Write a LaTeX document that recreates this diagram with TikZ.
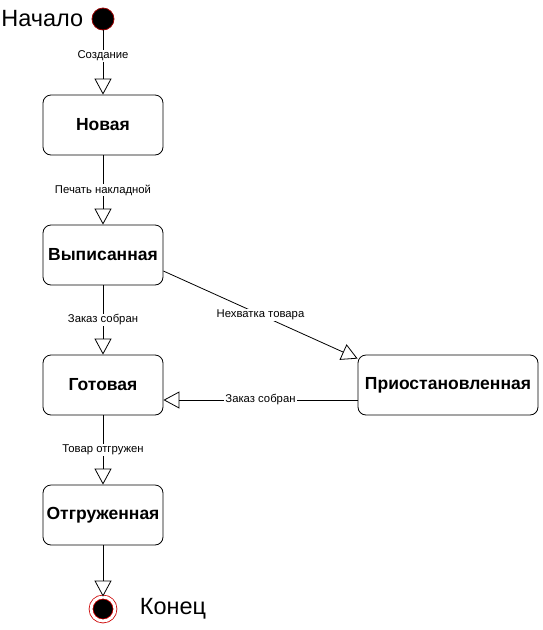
\documentclass[tikz,border=0pt]{standalone}
\usepackage{fontspec}
\setmainfont{Liberation Sans}
\usetikzlibrary{arrows.meta,positioning}

\begin{document}
\begin{tikzpicture}[x=1pt, y=-1pt, node distance=130pt, line width=0.8pt,
		state node/.style={rectangle,draw,rounded corners=8pt,minimum width=120pt,minimum height=60pt,
			inner sep=2pt,font=\fontsize{17.5}{20}\selectfont\bfseries},
		start node/.style={circle,draw=red!60!black,fill=black,minimum size=22pt,inner sep=0pt},
		end node/.style={circle,draw=red!80!black,double=white,double distance=3pt,fill=black,
			minimum size=24pt,inner sep=0pt},
		big label/.style={font=\fontsize{23.5}{26}\selectfont,inner sep=0pt},
		>={Triangle[open,length=16pt,width=17pt]}]
		
		\useasboundingbox (0,0) rectangle (543,630);
		
		\node[state node] (1) at (103,125) {Новая};
		\node[state node] (2) [below of=1] {Выписанная};
		\node[state node] (3) [below of=2] {Готовая};
		\node[state node] (4) [below of=3] {Отгруженная};
		\node[state node,minimum width=180pt] (5) [right of=3,node distance=345pt] {Приостановленная};
		
		\node[start node] (s) at (103,19) {};
		\node[big label,left=8pt of s] (s label) {Начало};
		\node[end node] (e) at (103,609) {};
		\node[big label,right=24pt of e] (e label) {Конец};
		
		\path[->,every node/.style={font=\fontsize{11.3}{13}\selectfont,fill=white,inner sep=1pt}]
		(s) edge node[pos=0.4] {Создание} (1)
		(1) edge node {Печать накладной} (2)
		(2) edge node {Заказ собран} (3)
		(3) edge node {Товар отгружен} (4)
		(4) edge (e)
		([yshift=-16pt]2.east) edge node {Нехватка товара} ([yshift=-4pt]5.north west)
		([yshift=-15pt]5.west) edge node {Заказ собран} ([yshift=-15pt]3.east);
	\end{tikzpicture}
\end{document}
